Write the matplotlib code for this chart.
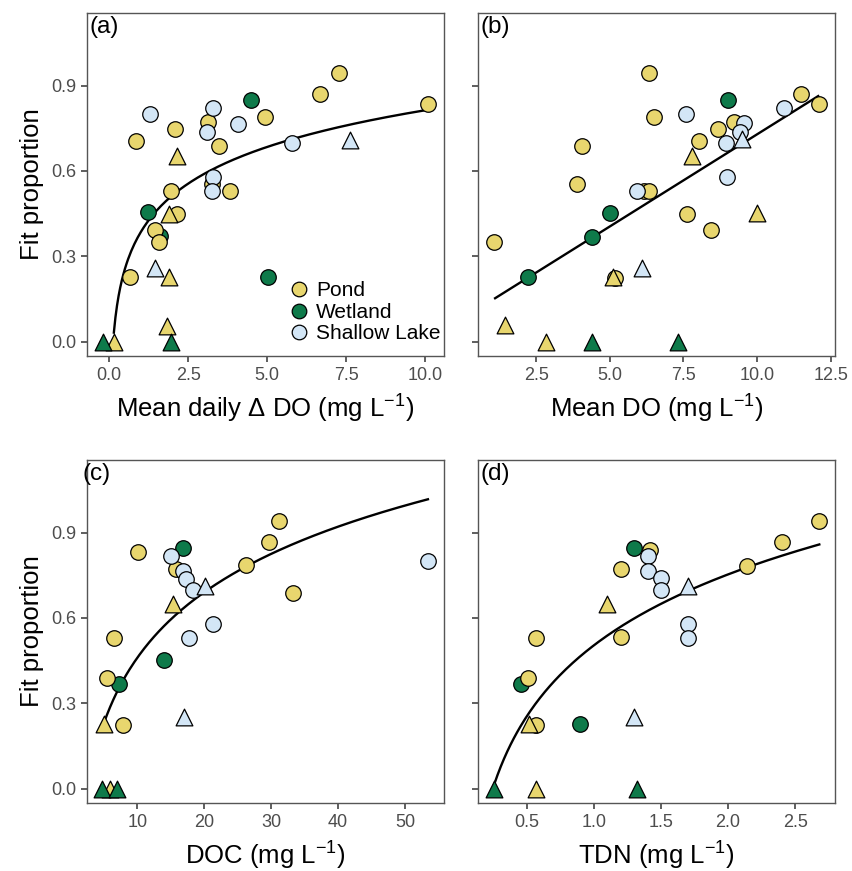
import numpy as np
import matplotlib
matplotlib.use("Agg")
import matplotlib.pyplot as plt
from matplotlib.lines import Line2D

plt.rcParams["font.family"] = ["Liberation Sans", "DejaVu Sans"]
plt.rcParams["mathtext.fontset"] = "custom"
plt.rcParams["mathtext.rm"] = "Liberation Sans"
plt.rcParams["mathtext.default"] = "regular"

# Farben je Gewässertyp
site_colors = {"Pond": "#E8D66E", "Wetland": "#0E7A4A", "Shallow Lake": "#D3E6F6"}
site_names = {"P": "Pond", "W": "Wetland", "S": "Shallow Lake"}

# (a) Mean daily delta DO
a_x = [0.85, 2.09, 3.14, 3.47, 3.27, 1.96, 3.83, 4.94, 6.66, 7.28, 10.1, 2.16, 1.45, 1.57, 0.66,
       2.16, 1.90, 1.90, 1.83, 0.14,
       4.48, 1.24, 1.61, 5.04,
       -0.20, 1.96,
       1.28, 3.30, 3.09, 4.09, 3.30, 3.27, 5.80,
       7.63, 1.46]
a_y = [0.705, 0.747, 0.771, 0.689, 0.553, 0.531, 0.531, 0.788, 0.869, 0.943, 0.835, 0.449, 0.393, 0.352, 0.227,
       0.653, 0.450, 0.229, 0.057, 0.0,
       0.849, 0.455, 0.372, 0.229,
       0.0, 0.0,
       0.800, 0.820, 0.738, 0.765, 0.580, 0.531, 0.697,
       0.709, 0.259]
a_site = list("PPPPPPPPPPPPPPP" "PPPPP" "WWWW" "WW" "SSSSSSS" "SS")
a_shape = list("ooooooooooooooo" "^^^^^" "oooo" "^^" "ooooooo" "^^")

# (b) Mean DO
b_x = [6.33, 6.51, 11.5, 12.1, 8.68, 9.22, 8.03, 4.07, 3.88, 6.16, 6.33, 1.08, 5.18, 7.61, 8.43,
       7.80, 9.98, 5.10, 1.45, 2.84,
       9.00, 5.01, 4.39, 2.24,
       4.41, 7.32,
       7.58, 10.92, 9.55, 9.42, 8.93, 8.96, 5.91,
       9.49, 6.08]
b_y = [0.943, 0.788, 0.869, 0.834, 0.747, 0.771, 0.705, 0.689, 0.555, 0.531, 0.531, 0.352, 0.225, 0.448, 0.393,
       0.653, 0.452, 0.229, 0.060, 0.0,
       0.849, 0.454, 0.367, 0.229,
       0.0, 0.0,
       0.799, 0.820, 0.767, 0.738, 0.699, 0.580, 0.531,
       0.711, 0.259]
b_site = a_site
b_shape = a_shape

# (c) DOC
c_x = [10.1, 15.8, 26.2, 29.7, 31.2, 33.2, 6.46, 5.48, 7.87,
       15.4, 4.97, 5.97,
       16.9, 14.0, 7.21,
       4.73, 6.97,
       15.1, 16.8, 17.3, 18.3, 21.3, 17.7, 53.4,
       20.1, 17.0]
c_y = [0.833, 0.771, 0.786, 0.868, 0.940, 0.687, 0.531, 0.390, 0.225,
       0.650, 0.227, 0.0,
       0.847, 0.452, 0.367,
       0.0, 0.0,
       0.818, 0.765, 0.738, 0.697, 0.580, 0.531, 0.800,
       0.712, 0.253]
c_site = list("PPPPPPPPP" "PPP" "WWW" "WW" "SSSSSSS" "SS")
c_shape = list("ooooooooo" "^^^" "ooo" "^^" "ooooooo" "^^")

# (d) TDN
d_x = [1.42, 1.20, 1.20, 0.57, 0.51, 0.567, 2.14, 2.40, 2.68,
       1.10, 0.515, 0.565,
       1.30, 0.46, 0.90,
       0.257, 1.32,
       1.40, 1.40, 1.50, 1.50, 1.70, 1.70,
       1.70, 1.30]
d_y = [0.839, 0.771, 0.533, 0.531, 0.390, 0.225, 0.782, 0.867, 0.940,
       0.650, 0.227, 0.0,
       0.847, 0.367, 0.227,
       0.0, 0.0,
       0.818, 0.765, 0.739, 0.698, 0.580, 0.531,
       0.712, 0.253]
d_site = list("PPPPPPPPP" "PPP" "WWW" "WW" "SSSSSS" "SS")
d_shape = list("ooooooooo" "^^^" "ooo" "^^" "oooooo" "^^")

a_fit = (0.385, 0.186, 0.15, 10.1)
b_fit = (0.081, 0.0648, 1.11, 12.07)
c_fit = (-0.306, 0.3326, 4.97, 53.4)
d_fit = (0.504, 0.3594, 0.257, 2.68)

xlabels = ["Mean daily \u0394 DO (mg L$^{-1}$)", "Mean DO (mg L$^{-1}$)",
           "DOC (mg L$^{-1}$)", "TDN (mg L$^{-1}$)"]
panel_tags = ["(a)", "(b)", "(c)", "(d)"]
xlims = [(-0.7, 10.6), (0.53, 12.64), (2.5, 55.8), (0.136, 2.797)]
xticks = [[0.0, 2.5, 5.0, 7.5, 10.0], [2.5, 5.0, 7.5, 10.0, 12.5],
          [10, 20, 30, 40, 50], [0.5, 1.0, 1.5, 2.0, 2.5]]
xticklabels = [["0.0", "2.5", "5.0", "7.5", "10.0"], ["2.5", "5.0", "7.5", "10.0", "12.5"],
               ["10", "20", "30", "40", "50"], ["0.5", "1.0", "1.5", "2.0", "2.5"]]
yticks = [0.0, 0.3, 0.6, 0.9]

W, H = 853, 871
fig = plt.figure(figsize=(W / 100, H / 100), dpi=100)

# Achsen-Positionen in Pixeln (links, rechts, oben, unten)
boxes = [(87, 444, 13, 356), (478, 835, 13, 356), (87, 444, 460, 803), (478, 835, 460, 803)]

panels = [(a_x, a_y, a_site, a_shape, a_fit, "log"),
          (b_x, b_y, b_site, b_shape, b_fit, "lin"),
          (c_x, c_y, c_site, c_shape, c_fit, "log"),
          (d_x, d_y, d_site, d_shape, d_fit, "log")]

grey = "#4D4D4D"

for i, (xs, ys, sites, shapes, fit, kind) in enumerate(panels):
    l, r, t, b = boxes[i]
    ax = fig.add_axes([l / W, 1 - b / H, (r - l) / W, (b - t) / H])

    p0, p1, x0, x1 = fit
    xf = np.linspace(x0, x1, 200)
    if kind == "log":
        yf = p0 + p1 * np.log(xf)
    else:
        yf = p0 + p1 * xf
    ax.plot(xf, yf, color="black", lw=1.7, zorder=2)

    xs = np.array(xs)
    ys = np.array(ys)
    sites = np.array(sites)
    shapes = np.array(shapes)
    order = [("W", "o"), ("P", "o"), ("S", "o"), ("P", "^"), ("W", "^"), ("S", "^")]
    for k, (s, m) in enumerate(order):
        sel = (sites == s) & (shapes == m)
        if not sel.any():
            continue
        ax.scatter(xs[sel], ys[sel], marker=m, s=125 if m == "o" else 145,
                   facecolor=site_colors[site_names[s]], edgecolor="black",
                   linewidths=0.9, zorder=3 + k)

    ax.set_xlim(*xlims[i])
    ax.set_ylim(-0.05, 1.155)
    ax.set_xticks(xticks[i])
    ax.set_xticklabels(xticklabels[i])
    ax.set_yticks(yticks)
    if i % 2 == 0:
        ax.set_yticklabels(["0.0", "0.3", "0.6", "0.9"])
        ax.set_ylabel("Fit proportion", fontsize=18.5, labelpad=5)
    else:
        ax.set_yticklabels([])
    ax.set_xlabel(xlabels[i], fontsize=18.5, labelpad=6)
    ax.tick_params(axis="both", direction="out", length=4, width=1.1, color="#333333",
                   labelsize=13, labelcolor=grey, pad=4)
    for sp in ax.spines.values():
        sp.set_color("#555555")
        sp.set_linewidth(1.0)

    dx = -0.014 if i == 2 else 0.006
    ax.text(dx, 0.99, panel_tags[i], transform=ax.transAxes, ha="left", va="top",
            fontsize=17.5, zorder=10)

    if i == 0:
        handles = [Line2D([], [], marker="o", ls="", markersize=10.5,
                          markerfacecolor=site_colors[n], markeredgecolor="black",
                          markeredgewidth=0.9, label=n)
                   for n in ["Pond", "Wetland", "Shallow Lake"]]
        ax.legend(handles=handles, loc="lower left", bbox_to_anchor=(0.51, -0.006),
                  frameon=False, fontsize=15, handletextpad=0.05, labelspacing=0.12,
                  borderpad=0.2, handlelength=1.5)

fig.savefig("out.png", dpi=100)
